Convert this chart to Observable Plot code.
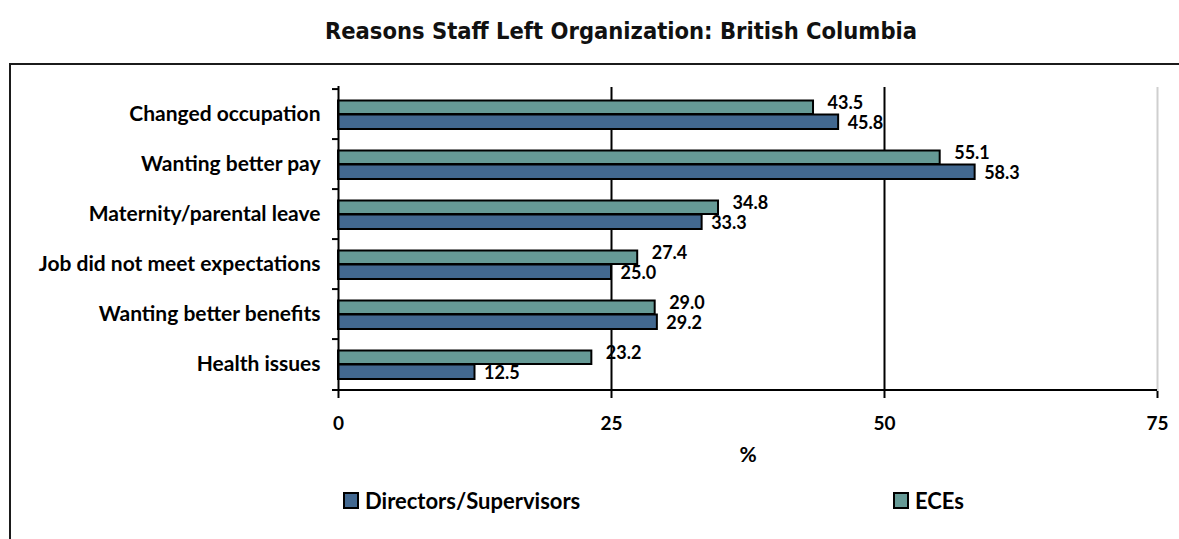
<!DOCTYPE html>
<html>
<head>
<meta charset="utf-8">
<script src="https://cdn.jsdelivr.net/npm/d3@7"></script>
<script src="https://cdn.jsdelivr.net/npm/@observablehq/plot@0.6"></script>
<style>
  html, body { margin: 0; padding: 0; background: #fff; }
  body { width: 1179px; height: 539px; overflow: hidden; position: relative; font-family: Lato, "Open Sans", sans-serif; color: #000; }
  #title { position: absolute; top: 17px; left: 621px; transform: translateX(-50%); white-space: nowrap;
           font-family: "DejaVu Sans Condensed", "DejaVu Sans", sans-serif; font-weight: bold; font-size: 23.5px; color: #111; }
  #frame { position: absolute; left: 9px; top: 63px; width: 1200px; height: 500px;
           border-left: 2px solid #1b1b1b; border-top: 2px solid #1b1b1b; }
  #chart { position: absolute; left: 12px; top: 65px; }
  .leg { position: absolute; top: 487px; display: flex; align-items: center; font-weight: bold; font-size: 22px; white-space: nowrap; }
  .sw { width: 12px; height: 13px; border: 2px solid #000; margin-right: 6px; }
</style>
</head>
<body>
<div id="title">Reasons Staff Left Organization: British Columbia</div>
<div id="frame"></div>
<div id="chart"></div>
<div class="leg" id="leg1" style="left:343px"><div class="sw" id="sw1"></div><span id="lt1"></span></div>
<div class="leg" id="leg2" style="left:893px"><div class="sw" id="sw2"></div><span id="lt2"></span></div>
<script>
const categories = [
  "Changed occupation",
  "Wanting better pay",
  "Maternity/parental leave",
  "Job did not meet expectations",
  "Wanting better benefits",
  "Health issues"
];
const seriesNames = ["Directors/Supervisors", "ECEs"];
const directors = [45.8, 58.3, 33.3, 25.0, 29.2, 12.5];
const eces = [43.5, 55.1, 34.8, 27.4, 29.0, 23.2];
const xTicks = [0, 25, 50, 75];
const axisLabel = "%";
const colors = ["#426890", "#669A96"];

const dirRows = categories.map((c, i) => ({category: c, value: directors[i]}));
const eceRows = categories.map((c, i) => ({category: c, value: eces[i]}));

const width = 1167, height = 405;
const mTop = 21, mBottom = 79, mLeft = 326, mRight = 22;
const bw = (height - mTop - mBottom) / categories.length;
const fontFam = "Lato, 'Open Sans', sans-serif";

const chart = Plot.plot({
  width, height,
  marginTop: mTop, marginBottom: mBottom, marginLeft: mLeft, marginRight: mRight,
  style: {fontFamily: fontFam, color: "#000", background: "transparent", overflow: "visible"},
  x: {domain: [0, 75], ticks: xTicks},
  y: {type: "band", domain: categories, padding: 0},
  marks: [
    Plot.ruleX([25, 50], {stroke: "#000", strokeWidth: 2, insetTop: 1}),
    Plot.ruleX([75], {stroke: "#cfcfcf", strokeWidth: 2, insetTop: 1}),
    Plot.barX(dirRows, {y: "category", x1: 0, x2: "value", fill: colors[0], stroke: "#000", strokeWidth: 2, insetTop: 25.5, insetBottom: 10}),
    Plot.text(dirRows, {y: "category", x: "value", text: d => d.value.toFixed(1), dx: 9, dy: 9, textAnchor: "start", fontWeight: "bold", fontSize: 18, fill: "#000"}),
    Plot.barX(eceRows, {y: "category", x1: 0, x2: "value", fill: colors[1], stroke: "#000", strokeWidth: 2, insetTop: 11.5, insetBottom: 25}),
    Plot.text(eceRows, {y: "category", x: "value", text: d => d.value.toFixed(1), dx: 14, dy: -11, textAnchor: "start", fontWeight: "bold", fontSize: 18, fill: "#000"}),
    Plot.ruleX([0], {stroke: "#000", strokeWidth: 2}),
    Plot.ruleY(categories, {y: d => d, x1: 0, x2: 0, insetLeft: -6, dy: -bw / 2, stroke: "#000", strokeWidth: 2}),
    Plot.ruleY([categories[categories.length - 1]], {y: d => d, x1: 0, x2: 75, insetLeft: -6, dy: bw / 2, stroke: "#000", strokeWidth: 2}),
    Plot.axisX({ticks: xTicks, tickSize: 7, tickPadding: 18, strokeWidth: 2, fontSize: 19, fontWeight: "bold", label: null}),
    Plot.text([axisLabel], {frameAnchor: "bottom", lineAnchor: "middle", dy: 64, fontSize: 21, fontWeight: "bold", fill: "#000"}),
    Plot.axisY({tickSize: 0, tickPadding: 18, fontSize: 21, fontWeight: "bold", label: null})
  ]
});
document.getElementById("chart").appendChild(chart);

document.getElementById("sw1").style.background = colors[0];
document.getElementById("sw2").style.background = colors[1];
document.getElementById("lt1").textContent = seriesNames[0];
document.getElementById("lt2").textContent = seriesNames[1];
</script>
</body>
</html>
